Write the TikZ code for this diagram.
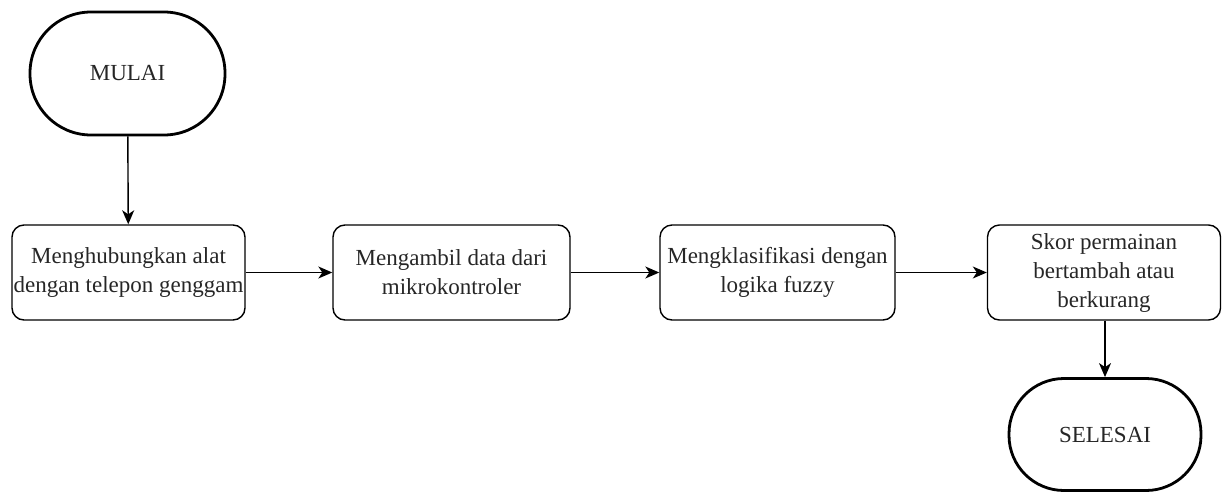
\documentclass[tikz,border=0pt]{standalone}
\usepackage{fontspec}
\setmainfont{Liberation Serif}
\usetikzlibrary{arrows.meta}
\begin{document}
\begin{tikzpicture}[x=1pt,y=-1pt,
  txt/.style={font=\rmfamily\fontsize{23}{29}\selectfont, text=black!85, align=center},
  proc/.style={txt, draw, line width=1.4pt, rounded corners=12pt, minimum height=95pt, inner sep=0pt},
  term/.style={txt, draw, line width=2.8pt, inner sep=0pt},
  arr/.style={line width=1.4pt, -{Stealth[length=14pt,width=12pt,inset=4pt]}}]
\useasboundingbox (0,0) rectangle (1225,493);
\node[term, minimum width=195pt, minimum height=123pt, rounded corners=61pt] (mulai) at (127.5,73.5) {MULAI};
\node[proc, minimum width=233pt] (b1) at (128.5,272.5) {Menghubungkan alat\\dengan telepon genggam};
\node[proc, minimum width=237pt] (b2) at (451.5,272.5) {Mengambil data dari\\mikrokontroler};
\node[proc, minimum width=235pt] (b3) at (777.5,272.5) {Mengklasifikasi dengan\\logika fuzzy};
\node[proc, minimum width=233pt] (b4) at (1104,272.5) {Skor permainan\\bertambah atau\\berkurang};
\node[term, minimum width=192pt, minimum height=112pt, rounded corners=55pt] (selesai) at (1105,434.5) {SELESAI};
\draw[arr] (mulai) -- (b1);
\draw[arr] (b1) -- (b2);
\draw[arr] (b2) -- (b3);
\draw[arr] (b3) -- (b4);
\draw[arr] (b4.south -| selesai.north) -- (selesai.north);
\end{tikzpicture}
\end{document}
